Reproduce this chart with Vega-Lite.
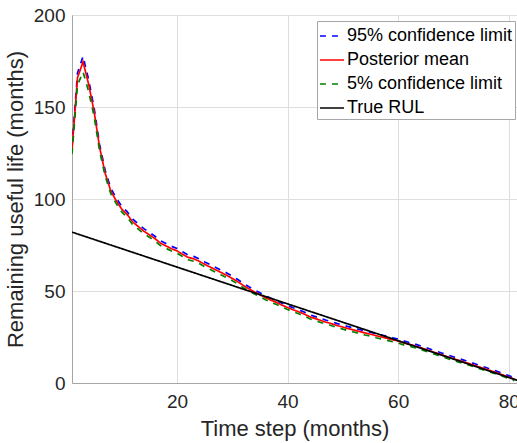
{
  "$schema": "https://vega.github.io/schema/vega-lite/v6.json",
  "width": 445,
  "height": 368,
  "autosize": "none",
  "padding": {"left": 72, "top": 15, "right": 0, "bottom": 60},
  "background": "white",
  "config": {
    "font": "Liberation Sans",
    "view": {"stroke": "#a6a6a6", "strokeWidth": 1},
    "axis": {
      "domainColor": "#a6a6a6",
      "gridColor": "#dedede",
      "gridWidth": 1,
      "labelColor": "#262626",
      "titleColor": "#262626",
      "labelFontSize": 19,
      "titleFontSize": 22,
      "titleFontWeight": "normal",
      "ticks": false
    },
    "legend": {
      "orient": "none",
      "legendX": 245,
      "legendY": 6,
      "fillColor": "white",
      "strokeColor": "#a6a6a6",
      "padding": 2,
      "labelFontSize": 18,
      "labelColor": "#000000",
      "labelOffset": 2,
      "rowPadding": 2,
      "symbolType": "stroke",
      "symbolSize": 580,
      "symbolStrokeWidth": 1.6,
      "labelLimit": 300
    }
  },
  "data": {
    "values": [
      {"t": 1, "95% confidence limit": 128.5, "Posterior mean": 126.5, "5% confidence limit": 124.5, "True RUL": 82},
      {"t": 2, "95% confidence limit": 168.5, "Posterior mean": 166, "5% confidence limit": 162, "True RUL": 81},
      {"t": 3, "95% confidence limit": 177.5, "Posterior mean": 174.5, "5% confidence limit": 169, "True RUL": 80},
      {"t": 4, "95% confidence limit": 165, "Posterior mean": 162.5, "5% confidence limit": 158.5, "True RUL": 79},
      {"t": 5, "95% confidence limit": 149.5, "Posterior mean": 147.5, "5% confidence limit": 145, "True RUL": 78},
      {"t": 6, "95% confidence limit": 129.5, "Posterior mean": 128, "5% confidence limit": 126, "True RUL": 77},
      {"t": 7, "95% confidence limit": 115.5, "Posterior mean": 114, "5% confidence limit": 112.5, "True RUL": 76},
      {"t": 8, "95% confidence limit": 106, "Posterior mean": 104.5, "5% confidence limit": 103, "True RUL": 75},
      {"t": 9, "95% confidence limit": 100.5, "Posterior mean": 99, "5% confidence limit": 97.5, "True RUL": 74},
      {"t": 10, "95% confidence limit": 96, "Posterior mean": 94.5, "5% confidence limit": 93, "True RUL": 73},
      {"t": 11, "95% confidence limit": 93, "Posterior mean": 91.5, "5% confidence limit": 90, "True RUL": 72},
      {"t": 12, "95% confidence limit": 89, "Posterior mean": 87.5, "5% confidence limit": 86, "True RUL": 71},
      {"t": 13, "95% confidence limit": 86.4, "Posterior mean": 85, "5% confidence limit": 83.6, "True RUL": 70},
      {"t": 14, "95% confidence limit": 83.9, "Posterior mean": 82.5, "5% confidence limit": 81.1, "True RUL": 69},
      {"t": 15, "95% confidence limit": 81.8, "Posterior mean": 80.5, "5% confidence limit": 79.2, "True RUL": 68},
      {"t": 16, "95% confidence limit": 79.8, "Posterior mean": 78.5, "5% confidence limit": 77.2, "True RUL": 67},
      {"t": 17, "95% confidence limit": 77.3, "Posterior mean": 76, "5% confidence limit": 74.7, "True RUL": 66},
      {"t": 18, "95% confidence limit": 75.8, "Posterior mean": 74.5, "5% confidence limit": 73.2, "True RUL": 65},
      {"t": 19, "95% confidence limit": 74.3, "Posterior mean": 73, "5% confidence limit": 71.7, "True RUL": 64},
      {"t": 20, "95% confidence limit": 73.1, "Posterior mean": 71.8, "5% confidence limit": 70.5, "True RUL": 63},
      {"t": 21, "95% confidence limit": 71.3, "Posterior mean": 70, "5% confidence limit": 68.7, "True RUL": 62},
      {"t": 22, "95% confidence limit": 69.6, "Posterior mean": 68.3, "5% confidence limit": 67, "True RUL": 61},
      {"t": 23, "95% confidence limit": 68.8, "Posterior mean": 67.5, "5% confidence limit": 66.2, "True RUL": 60},
      {"t": 24, "95% confidence limit": 67.5, "Posterior mean": 66.2, "5% confidence limit": 64.9, "True RUL": 59},
      {"t": 25, "95% confidence limit": 65.8, "Posterior mean": 64.5, "5% confidence limit": 63.2, "True RUL": 58},
      {"t": 26, "95% confidence limit": 64.3, "Posterior mean": 63, "5% confidence limit": 61.7, "True RUL": 57},
      {"t": 27, "95% confidence limit": 62.8, "Posterior mean": 61.5, "5% confidence limit": 60.2, "True RUL": 56},
      {"t": 28, "95% confidence limit": 61.3, "Posterior mean": 60, "5% confidence limit": 58.7, "True RUL": 55},
      {"t": 29, "95% confidence limit": 59.8, "Posterior mean": 58.5, "5% confidence limit": 57.2, "True RUL": 54},
      {"t": 30, "95% confidence limit": 58, "Posterior mean": 56.8, "5% confidence limit": 55.6, "True RUL": 53},
      {"t": 31, "95% confidence limit": 56.2, "Posterior mean": 55, "5% confidence limit": 53.8, "True RUL": 52},
      {"t": 32, "95% confidence limit": 54.2, "Posterior mean": 53, "5% confidence limit": 51.8, "True RUL": 51},
      {"t": 33, "95% confidence limit": 52.3, "Posterior mean": 51.2, "5% confidence limit": 50.1, "True RUL": 50},
      {"t": 34, "95% confidence limit": 50.6, "Posterior mean": 49.5, "5% confidence limit": 48.4, "True RUL": 49},
      {"t": 35, "95% confidence limit": 49.1, "Posterior mean": 48, "5% confidence limit": 46.9, "True RUL": 48},
      {"t": 36, "95% confidence limit": 47.4, "Posterior mean": 46.3, "5% confidence limit": 45.2, "True RUL": 47},
      {"t": 37, "95% confidence limit": 46.1, "Posterior mean": 45, "5% confidence limit": 43.9, "True RUL": 46},
      {"t": 38, "95% confidence limit": 44.9, "Posterior mean": 43.8, "5% confidence limit": 42.7, "True RUL": 45},
      {"t": 39, "95% confidence limit": 43.4, "Posterior mean": 42.3, "5% confidence limit": 41.2, "True RUL": 44},
      {"t": 40, "95% confidence limit": 42.1, "Posterior mean": 41, "5% confidence limit": 39.9, "True RUL": 43},
      {"t": 41, "95% confidence limit": 40.9, "Posterior mean": 39.8, "5% confidence limit": 38.7, "True RUL": 42},
      {"t": 42, "95% confidence limit": 39.8, "Posterior mean": 38.7, "5% confidence limit": 37.6, "True RUL": 41},
      {"t": 43, "95% confidence limit": 38.6, "Posterior mean": 37.5, "5% confidence limit": 36.4, "True RUL": 40},
      {"t": 44, "95% confidence limit": 37.1, "Posterior mean": 36, "5% confidence limit": 34.9, "True RUL": 39},
      {"t": 45, "95% confidence limit": 36.1, "Posterior mean": 35, "5% confidence limit": 33.9, "True RUL": 38},
      {"t": 46, "95% confidence limit": 35.1, "Posterior mean": 34, "5% confidence limit": 32.9, "True RUL": 37},
      {"t": 47, "95% confidence limit": 34.1, "Posterior mean": 33, "5% confidence limit": 31.9, "True RUL": 36},
      {"t": 48, "95% confidence limit": 33.3, "Posterior mean": 32.2, "5% confidence limit": 31.1, "True RUL": 35},
      {"t": 49, "95% confidence limit": 32.3, "Posterior mean": 31.2, "5% confidence limit": 30.1, "True RUL": 34},
      {"t": 50, "95% confidence limit": 31.5, "Posterior mean": 30.4, "5% confidence limit": 29.3, "True RUL": 33},
      {"t": 51, "95% confidence limit": 30.6, "Posterior mean": 29.5, "5% confidence limit": 28.4, "True RUL": 32},
      {"t": 52, "95% confidence limit": 29.9, "Posterior mean": 28.8, "5% confidence limit": 27.7, "True RUL": 31},
      {"t": 53, "95% confidence limit": 29.1, "Posterior mean": 28, "5% confidence limit": 26.9, "True RUL": 30},
      {"t": 54, "95% confidence limit": 28.3, "Posterior mean": 27.2, "5% confidence limit": 26.1, "True RUL": 29},
      {"t": 55, "95% confidence limit": 27.6, "Posterior mean": 26.5, "5% confidence limit": 25.4, "True RUL": 28},
      {"t": 56, "95% confidence limit": 26.8, "Posterior mean": 25.7, "5% confidence limit": 24.6, "True RUL": 27},
      {"t": 57, "95% confidence limit": 26.1, "Posterior mean": 25, "5% confidence limit": 23.9, "True RUL": 26},
      {"t": 58, "95% confidence limit": 25.4, "Posterior mean": 24.3, "5% confidence limit": 23.2, "True RUL": 25},
      {"t": 59, "95% confidence limit": 24.6, "Posterior mean": 23.5, "5% confidence limit": 22.4, "True RUL": 24},
      {"t": 60, "95% confidence limit": 23.9, "Posterior mean": 22.8, "5% confidence limit": 21.7, "True RUL": 23},
      {"t": 61, "95% confidence limit": 22.9, "Posterior mean": 21.8, "5% confidence limit": 20.7, "True RUL": 22},
      {"t": 62, "95% confidence limit": 22, "Posterior mean": 21, "5% confidence limit": 20, "True RUL": 21},
      {"t": 63, "95% confidence limit": 21.2, "Posterior mean": 20.2, "5% confidence limit": 19.2, "True RUL": 20},
      {"t": 64, "95% confidence limit": 20.2, "Posterior mean": 19.2, "5% confidence limit": 18.2, "True RUL": 19},
      {"t": 65, "95% confidence limit": 19.3, "Posterior mean": 18.3, "5% confidence limit": 17.3, "True RUL": 18},
      {"t": 66, "95% confidence limit": 18.2, "Posterior mean": 17.2, "5% confidence limit": 16.2, "True RUL": 17},
      {"t": 67, "95% confidence limit": 17.2, "Posterior mean": 16.2, "5% confidence limit": 15.2, "True RUL": 16},
      {"t": 68, "95% confidence limit": 16.2, "Posterior mean": 15.2, "5% confidence limit": 14.2, "True RUL": 15},
      {"t": 69, "95% confidence limit": 15.2, "Posterior mean": 14.2, "5% confidence limit": 13.2, "True RUL": 14},
      {"t": 70, "95% confidence limit": 14.2, "Posterior mean": 13.2, "5% confidence limit": 12.2, "True RUL": 13},
      {"t": 71, "95% confidence limit": 13.3, "Posterior mean": 12.3, "5% confidence limit": 11.3, "True RUL": 12},
      {"t": 72, "95% confidence limit": 12.3, "Posterior mean": 11.3, "5% confidence limit": 10.3, "True RUL": 11},
      {"t": 73, "95% confidence limit": 11.3, "Posterior mean": 10.4, "5% confidence limit": 9.5, "True RUL": 10},
      {"t": 74, "95% confidence limit": 10.3, "Posterior mean": 9.4, "5% confidence limit": 8.5, "True RUL": 9},
      {"t": 75, "95% confidence limit": 9.3, "Posterior mean": 8.4, "5% confidence limit": 7.5, "True RUL": 8},
      {"t": 76, "95% confidence limit": 8.3, "Posterior mean": 7.4, "5% confidence limit": 6.5, "True RUL": 7},
      {"t": 77, "95% confidence limit": 7.2, "Posterior mean": 6.4, "5% confidence limit": 5.6, "True RUL": 6},
      {"t": 78, "95% confidence limit": 6.2, "Posterior mean": 5.4, "5% confidence limit": 4.6, "True RUL": 5},
      {"t": 79, "95% confidence limit": 5.1, "Posterior mean": 4.3, "5% confidence limit": 3.5, "True RUL": 4},
      {"t": 80, "95% confidence limit": 4, "Posterior mean": 3.2, "5% confidence limit": 2.4, "True RUL": 3},
      {"t": 81, "95% confidence limit": 2.9, "Posterior mean": 2.1, "5% confidence limit": 1.3, "True RUL": 2},
      {"t": 82, "True RUL": 1}
    ]
  },
  "transform": [
    {"fold": ["95% confidence limit", "Posterior mean", "5% confidence limit", "True RUL"], "as": ["series", "value"]}
  ],
  "mark": {"type": "line", "strokeWidth": 1.7, "clip": true},
  "encoding": {
    "x": {
      "field": "t", "type": "quantitative",
      "scale": {"domain": [1, 81.5], "nice": false, "zero": false},
      "axis": {"values": [20, 40, 60, 80], "title": "Time step (months)", "labelPadding": 9, "titlePadding": 7}
    },
    "y": {
      "field": "value", "type": "quantitative",
      "scale": {"domain": [0, 200], "nice": false},
      "axis": {"values": [0, 50, 100, 150, 200], "title": "Remaining useful life (months)", "labelPadding": 7, "titlePadding": 6}
    },
    "color": {
      "field": "series", "type": "nominal",
      "scale": {
        "domain": ["95% confidence limit", "Posterior mean", "5% confidence limit", "True RUL"],
        "range": ["#0000ff", "#ff0000", "#008000", "#000000"]
      },
      "legend": {"title": null}
    },
    "strokeDash": {
      "field": "series", "type": "nominal",
      "scale": {
        "domain": ["95% confidence limit", "Posterior mean", "5% confidence limit", "True RUL"],
        "range": [[6, 6], [1, 0], [6, 6], [1, 0]]
      },
      "legend": {"title": null}
    }
  }
}
